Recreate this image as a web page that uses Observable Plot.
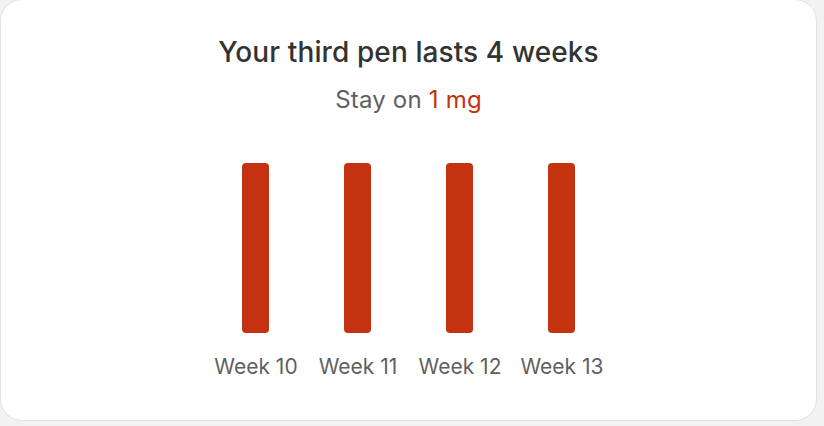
<!DOCTYPE html>
<html>
<head>
<meta charset="utf-8">
<script src="https://cdn.jsdelivr.net/npm/d3@7"></script>
<script src="https://cdn.jsdelivr.net/npm/@observablehq/plot@0.6"></script>
<style>
  html, body { margin: 0; padding: 0; }
  body { width: 824px; height: 426px; background: #f2f2f2; position: relative; overflow: hidden; font-family: Inter, "Open Sans", sans-serif; }
  .card { position: absolute; left: 0; top: -1px; width: 815px; height: 420px; background: #fff; border: 1px solid #e2e2e2; border-radius: 22px; }
  .title { position: absolute; left: 0; width: 817px; top: 36px; text-align: center; font-size: 28px; font-weight: 500; color: #333333; line-height: 32px; letter-spacing: 0.1px; }
  .subtitle { position: absolute; left: 0; width: 817px; top: 86px; text-align: center; font-size: 24px; font-weight: 400; color: #5f5f5f; line-height: 28px; letter-spacing: 0.2px; }
  .subtitle .hl { color: #C4320F; }
  #chart { position: absolute; left: 0; top: 0; }
</style>
</head>
<body>
<div class="card"></div>
<div class="title" id="title"></div>
<div class="subtitle" id="subtitle"></div>
<div id="chart"></div>
<script>
const titleText = "Your third pen lasts 4 weeks";
const subtitlePrefix = "Stay on ";
const subtitleDose = "1 mg";
const weeks = ["Week 10", "Week 11", "Week 12", "Week 13"];
const doseMg = [1, 1, 1, 1];

const data = weeks.map((w, i) => ({ week: w, dose: doseMg[i] }));

document.getElementById("title").textContent = titleText;
const sub = document.getElementById("subtitle");
sub.appendChild(document.createTextNode(subtitlePrefix));
const hl = document.createElement("span");
hl.className = "hl";
hl.textContent = subtitleDose;
sub.appendChild(hl);

const chart = Plot.plot({
  width: 824,
  height: 426,
  marginTop: 163,
  marginBottom: 93,
  marginLeft: 0,
  marginRight: 0,
  x: { domain: weeks, range: [204.3, 613.4], paddingInner: 0.736, paddingOuter: 0.368, label: null },
  y: { domain: [0, 1], axis: null },
  style: { background: "transparent", fontFamily: "Inter, 'Open Sans', sans-serif", fontSize: "21px", color: "#5f5f5f" },
  marks: [
    Plot.barY(data, { x: "week", y: "dose", fill: "#C4320F", rx: 4 }),
    Plot.axisX({ tickSize: 0, tickPadding: 26, fontSize: 21, label: null })
  ]
});
document.getElementById("chart").appendChild(chart);
</script>
</body>
</html>
